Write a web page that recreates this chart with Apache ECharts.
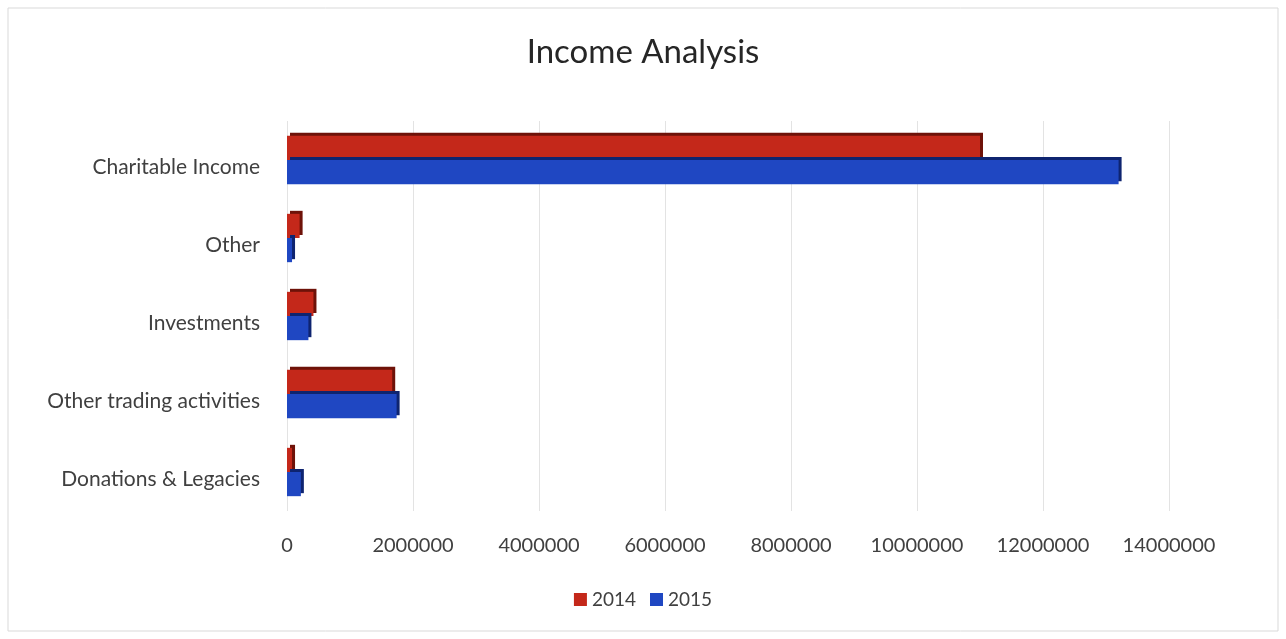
<!DOCTYPE html>
<html><head><meta charset="utf-8">
<script src="https://cdn.jsdelivr.net/npm/echarts@6/dist/echarts.min.js"></script>
<style>html,body{margin:0;padding:0;background:#fff}#c{width:1286px;height:639px}</style>
</head><body><div id="c"></div>
<script>
const categories = ['Charitable Income','Other','Investments','Other trading activities','Donations & Legacies'];
const values2014 = [11000000, 200000, 420000, 1670000, 80000];
const values2015 = [13200000, 80000, 340000, 1740000, 220000];
const xTicks = [0,2000000,4000000,6000000,8000000,10000000,12000000,14000000];

const chart = echarts.init(document.getElementById('c'));
const font = 'Lato, "Open Sans", sans-serif';
chart.setOption({
  backgroundColor:'#fff',
  animation:false,
  title:{text:'Income Analysis',left:'center',top:31,textStyle:{fontFamily:font,fontSize:33,fontWeight:'normal',color:'#262626'}},
  legend:{data:['2014','2015'],bottom:25,left:'center',itemWidth:13,itemHeight:13,itemGap:14,icon:'rect',
    textStyle:{fontFamily:font,fontSize:19,color:'#404040'}},
  grid:{left:287,right:117,top:121,bottom:128,containLabel:false},
  xAxis:{type:'value',min:0,max:14000000,interval:2000000,
    axisLine:{show:false},axisTick:{show:false},
    splitLine:{show:true,lineStyle:{color:'#e3e3e3',width:1}},
    axisLabel:{fontFamily:font,fontSize:20,color:'#404040',margin:25,
      formatter:v=>xTicks.includes(v)?String(v):''}},
  yAxis:{type:'category',data:categories,inverse:true,
    axisLine:{show:false},axisTick:{show:false},
    axisLabel:{margin:27,formatter:v=>'{l|'+v+'}',
      rich:{l:{fontFamily:font,fontSize:21,color:'#404040',padding:[14,0,0,0]}}}},
  series:[
    {name:'2014',type:'bar',data:values2014,barGap:'0%',barCategoryGap:'38%',
      itemStyle:{color:'#c4281a',shadowColor:'#6e1209',shadowOffsetX:3,shadowOffsetY:-3,shadowBlur:0}},
    {name:'2015',type:'bar',data:values2015,barGap:'0%',barCategoryGap:'38%',
      itemStyle:{color:'#1f47c2',shadowColor:'#0e2470',shadowOffsetX:3,shadowOffsetY:-3,shadowBlur:0}}
  ],
  graphic:[{type:'rect',shape:{x:8,y:8,width:1270,height:623},style:{fill:'none',stroke:'#d9d9d9',lineWidth:1},silent:true}]
});
</script></body></html>
